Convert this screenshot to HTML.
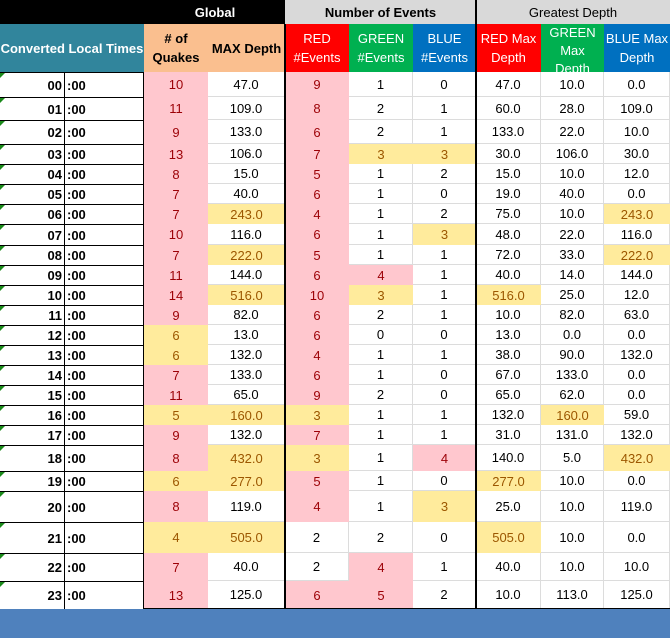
<!DOCTYPE html>
<html><head><meta charset="utf-8"><style>
body{margin:0;width:670px;height:638px;background:#fff;overflow:hidden;position:relative;font-family:"Liberation Sans",sans-serif;font-size:13px}
.c{position:absolute;box-sizing:border-box;display:flex;align-items:center;justify-content:center;text-align:center;line-height:19px}
.p{background:#FFC7CE;color:#9C0006}
.y{background:#FFEB9C;color:#9C5700}
.g{border-right:1px solid #dcdcdc;border-bottom:1px solid #dcdcdc}
.tri{position:absolute;left:0;top:0;width:0;height:0;border-top:5px solid #1a8a1a;border-right:5px solid transparent}
.vl{position:absolute;background:#000;width:2px;top:24px}
</style></head><body>
<div class="c" style="left:0;top:0;width:285px;height:24px;background:#000;color:#fff;font-weight:bold;padding-left:145px">Global</div>
<div class="c" style="left:285px;top:0;width:191px;height:24px;background:#d9d9d9;font-weight:bold">Number of Events</div>
<div class="c" style="left:476px;top:0;width:194px;height:24px;background:#d9d9d9">Greatest Depth</div>
<div class="c" style="left:0;top:24px;width:144px;height:48px;background:#31859C;color:#fff;font-weight:bold">Converted Local Times</div>
<div class="c" style="left:144px;top:24px;width:64px;height:48px;background:#FABF8F;font-weight:bold">#&nbsp;of<br>Quakes</div>
<div class="c" style="left:208px;top:24px;width:77px;height:48px;background:#FABF8F;font-weight:bold">MAX Depth</div>
<div class="c" style="left:285px;top:24px;width:64px;height:48px;background:#FF0000;color:#fff">RED<br>#Events</div>
<div class="c" style="left:349px;top:24px;width:64px;height:48px;background:#00B050;color:#fff">GREEN<br>#Events</div>
<div class="c" style="left:413px;top:24px;width:63px;height:48px;background:#0070C0;color:#fff">BLUE<br>#Events</div>
<div class="c" style="left:476px;top:24px;width:65px;height:48px;background:#FF0000;color:#fff">RED Max<br>Depth</div>
<div class="c" style="left:541px;top:24px;width:63px;height:48px;background:#00B050;color:#fff;overflow:hidden;align-items:flex-start;line-height:18px;padding-top:0">GREEN<br>Max<br>Depth</div>
<div class="c" style="left:604px;top:24px;width:66px;height:48px;background:#0070C0;color:#fff">BLUE Max<br>Depth</div>
<div id="grid"></div>
<div style="position:absolute;left:0;top:609px;width:670px;height:29px;background:#4F81BD"></div>
<script>
const hours=["00","01","02","03","04","05","06","07","08","09","10","11","12","13","14","15","16","17","18","19","20","21","22","23"];
const quakes=["10p","11p","9p","13p","8p","7p","7p","10p","7p","11p","14p","9p","6y","6y","7p","11p","5y","9p","8p","6y","8p","4y","7p","13p"];
const maxDepth=["47.0","109.0","133.0","106.0","15.0","40.0","243.0y","116.0","222.0y","144.0","516.0y","82.0","13.0","132.0","133.0","65.0","160.0y","132.0","432.0y","277.0y","119.0","505.0y","40.0","125.0"];
const redEv=["9p","8p","6p","7p","5p","6p","4p","6p","5p","6p","10p","6p","6p","4p","6p","9p","3y","7p","3y","5p","4p","2","2","6p"];
const greenEv=["1","2","2","3y","1","1","1","1","1","4p","3y","2","0","1","1","2","1","1","1","1","1","2","4p","5p"];
const blueEv=["0","1","1","3y","2","0","2","3y","1","1","1","1","0","1","0","0","1","1","4p","0","3y","0","1","2"];
const redMax=["47.0","60.0","133.0","30.0","15.0","19.0","75.0","48.0","72.0","40.0","516.0y","10.0","13.0","38.0","67.0","65.0","132.0","31.0","140.0","277.0y","25.0","505.0y","40.0","10.0"];
const greenMax=["10.0","28.0","22.0","106.0","10.0","40.0","10.0","22.0","33.0","14.0","25.0","82.0","0.0","90.0","133.0","62.0","160.0y","131.0","5.0","10.0","10.0","10.0","10.0","113.0"];
const blueMax=["0.0","109.0","10.0","30.0","12.0","0.0","243.0y","116.0","222.0y","144.0","12.0","63.0","0.0","132.0","0.0","0.0","59.0","132.0","432.0y","0.0","119.0","0.0","10.0","125.0"];
const rowB=[72,97,120,144,164,184,204,224,245,265,285,305,325,345,365,385,405,425,445,471,491,522,553,581,609];
const colX=[144,208,285,349,413,476,541,604,670];
const cols=[quakes,maxDepth,redEv,greenEv,blueEv,redMax,greenMax,blueMax];
const colNames=["quakes","max-depth","red-events","green-events","blue-events","red-max-depth","green-max-depth","blue-max-depth"];
const g=document.getElementById('grid');
hours.forEach((h,i)=>{
  const t=rowB[i],hh=rowB[i+1]-t;
  const a=document.createElement('div');
  a.className='c';
  
  
  a.style.cssText=`left:0;top:${t}px;width:65px;height:${hh+1}px;border:1px solid #000;border-left:none;justify-content:flex-end;padding-right:2px;font-weight:bold`;
  a.innerHTML='<span class="tri"></span>'+h;
  g.appendChild(a);
  const b=document.createElement('div');
  b.className='c';
  
  
  b.style.cssText=`left:64px;top:${t}px;width:80px;height:${hh+1}px;border:1px solid #000;justify-content:flex-start;padding-left:2px;font-weight:bold`;
  b.textContent=':00';
  g.appendChild(b);
  cols.forEach((arr,j)=>{
    let v=arr[i],cls='g';
    if(v.endsWith('p')){cls='p';v=v.slice(0,-1);}
    else if(v.endsWith('y')){cls='y';v=v.slice(0,-1);}
    const d=document.createElement('div');
    d.className='c '+cls;
    
    
    d.style.cssText=`left:${colX[j]}px;top:${t}px;width:${colX[j+1]-colX[j]}px;height:${hh}px`;
    d.textContent=v;
    g.appendChild(d);
  });
});
[284,475].forEach(x=>{
  const l=document.createElement('div');
  l.className='vl';
  
  
  l.style.left=x+'px';l.style.height='585px';
  if(x===475){l.style.top='0px';l.style.height='609px';}
  g.appendChild(l);
});
const bl=document.createElement('div');


bl.style.cssText='position:absolute;left:144px;top:608px;width:526px;height:1px;background:#000';
g.appendChild(bl);
</script>
</body></html>
